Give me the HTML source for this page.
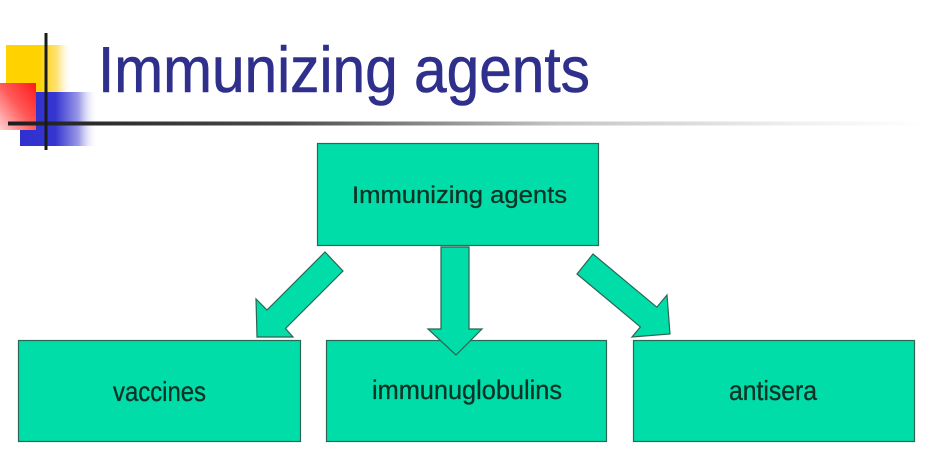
<!DOCTYPE html>
<html>
<head>
<meta charset="utf-8">
<style>
  html, body { margin: 0; padding: 0; background: #ffffff; }
  body { width: 934px; height: 475px; overflow: hidden; }
  svg { display: block; }
</style>
</head>
<body>
<svg width="934" height="475" viewBox="0 0 934 475" xmlns="http://www.w3.org/2000/svg">
  <defs>
    <linearGradient id="yel" x1="0" y1="0" x2="1" y2="0">
      <stop offset="0" stop-color="#ffd200"/>
      <stop offset="0.5" stop-color="#ffd200"/>
      <stop offset="0.78" stop-color="#ffe27a"/>
      <stop offset="1" stop-color="#ffffff" stop-opacity="0"/>
    </linearGradient>
    <linearGradient id="blu" x1="0" y1="0" x2="1" y2="0">
      <stop offset="0" stop-color="#3030d0"/>
      <stop offset="0.45" stop-color="#3535d0"/>
      <stop offset="0.75" stop-color="#9a9ae8"/>
      <stop offset="1" stop-color="#ffffff" stop-opacity="0"/>
    </linearGradient>
    <linearGradient id="red" x1="1" y1="0" x2="0" y2="1">
      <stop offset="0" stop-color="#ff1a1a"/>
      <stop offset="0.5" stop-color="#ff5a5a"/>
      <stop offset="1" stop-color="#ffd0d0"/>
    </linearGradient>
    <linearGradient id="rule" x1="8" y1="0" x2="925" y2="0" gradientUnits="userSpaceOnUse">
      <stop offset="0" stop-color="#1e1e1e"/>
      <stop offset="0.3" stop-color="#4a4a4a"/>
      <stop offset="0.6" stop-color="#c4c4c4"/>
      <stop offset="0.85" stop-color="#eeeeee"/>
      <stop offset="1" stop-color="#ffffff"/>
    </linearGradient>
  </defs>

  <!-- logo -->
  <rect x="6" y="45" width="66" height="48" fill="url(#yel)"/>
  <rect x="20" y="92" width="78" height="54" fill="url(#blu)"/>
  <rect x="0" y="83" width="36" height="47" fill="url(#red)"/>
  <rect x="8" y="121.5" width="917" height="4" fill="url(#rule)"/>
  <rect x="44.5" y="33" width="3" height="117" fill="#1a1a1a"/>

  <!-- title -->
  <text x="98" y="92" font-family="Liberation Sans, sans-serif" font-size="65" fill="#2f2f8c" stroke="#2f2f8c" stroke-width="0.6" textLength="492" lengthAdjust="spacingAndGlyphs">Immunizing agents</text>

  <!-- top box -->
  <rect x="317.5" y="143.5" width="281" height="102" fill="#00dda8" stroke="#2a6652" stroke-width="1.2"/>
  <text x="352" y="203" font-family="Liberation Sans, sans-serif" font-size="24" fill="#0a3326" stroke="#0a3326" stroke-width="0.3" textLength="215" lengthAdjust="spacingAndGlyphs">Immunizing agents</text>

  <!-- arrows -->
  <polygon points="325,252 343,271 285.5,328.5 293,337 257,337 256,299 267,310" fill="#00dda8" stroke="#2a6652" stroke-width="1.2"/>
  <polygon points="593,254 656.8,307.2 667,295 670,334 632,337 640.4,326.9 577,274" fill="#00dda8" stroke="#2a6652" stroke-width="1.2"/>

  <!-- bottom boxes -->
  <rect x="18.5" y="340.5" width="282" height="101" fill="#00dda8" stroke="#2a6652" stroke-width="1.2"/>
  <rect x="326.5" y="340.5" width="280" height="101" fill="#00dda8" stroke="#2a6652" stroke-width="1.2"/>
  <rect x="633.5" y="340.5" width="281" height="101" fill="#00dda8" stroke="#2a6652" stroke-width="1.2"/>

  <!-- center arrow over middle box -->
  <polygon points="441,247 469,247 469,329 482,329 456,355 428,329 441,329" fill="#00dda8" stroke="#2a6652" stroke-width="1.2"/>

  <g transform="translate(0,401) scale(1,1.12)">
    <text x="113" y="0" font-family="Liberation Sans, sans-serif" font-size="24.5" fill="#0a3326" stroke="#0a3326" stroke-width="0.3" textLength="93" lengthAdjust="spacingAndGlyphs">vaccines</text>
  </g>
  <g transform="translate(0,399) scale(1,1.08)">
    <text x="372" y="0" font-family="Liberation Sans, sans-serif" font-size="25" fill="#0a3326" stroke="#0a3326" stroke-width="0.3" textLength="190" lengthAdjust="spacingAndGlyphs">immunuglobulins</text>
  </g>
  <g transform="translate(0,400) scale(1,1.12)">
    <text x="729" y="0" font-family="Liberation Sans, sans-serif" font-size="24.5" fill="#0a3326" stroke="#0a3326" stroke-width="0.3" textLength="88" lengthAdjust="spacingAndGlyphs">antisera</text>
  </g>
</svg>
</body>
</html>
